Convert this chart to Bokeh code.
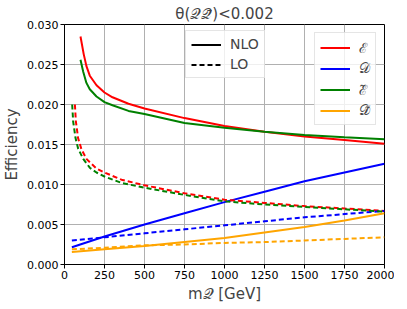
from bokeh.plotting import figure
from bokeh.models import Legend, LegendItem, FixedTicker, NumeralTickFormatter
from bokeh.embed import file_html
from bokeh.resources import INLINE

# ---- data ----
m_E_nlo = [100, 120, 137, 158, 200, 250, 300, 400, 500, 750, 1000, 1250, 1500, 1750, 2000]
E_nlo = [0.0285, 0.0263, 0.0248, 0.0236, 0.0224, 0.0215, 0.0209, 0.0201, 0.0195, 0.0183,
         0.0173, 0.0166, 0.0160, 0.01555, 0.0151]

m_Et_nlo = [100, 117, 137, 158, 200, 250, 300, 400, 500, 750, 1000, 1250, 1500, 1750, 2000]
Et_nlo = [0.0256, 0.0241, 0.0227, 0.0219, 0.0210, 0.0203, 0.0199, 0.0192, 0.0188, 0.0177,
          0.0171, 0.0166, 0.0162, 0.0159, 0.01565]

m_E_lo = [65, 71, 85, 106, 137, 200, 250, 356, 500, 750, 1000, 1250, 1500, 1750, 2000]
E_lo = [0.0200, 0.0179, 0.0158, 0.0144, 0.0132, 0.0120, 0.0115, 0.0106, 0.0099, 0.0089,
        0.0081, 0.0077, 0.0073, 0.0070, 0.0067]

m_Et_lo = [48, 54, 69, 85, 117, 158, 200, 250, 356, 500, 750, 1000, 1250, 1500, 1750, 2000]
Et_lo = [0.0200, 0.0179, 0.0158, 0.0145, 0.0132, 0.0121, 0.0115, 0.0110, 0.0102, 0.0096,
         0.0087, 0.0079, 0.0075, 0.0072, 0.0069, 0.0066]

m_D = [46, 250, 500, 750, 1000, 1250, 1500, 1750, 2000]
D_nlo = [0.00215, 0.0035, 0.0050, 0.0064, 0.0078, 0.0091, 0.0104, 0.0115, 0.0126]
D_lo = [0.0030, 0.0034, 0.0039, 0.0044, 0.0049, 0.0054, 0.0059, 0.0063, 0.0067]
Dt_nlo = [0.00156, 0.0019, 0.0023, 0.0028, 0.0033, 0.0040, 0.0047, 0.0055, 0.0064]
Dt_lo = [0.0019, 0.0021, 0.0024, 0.0025, 0.0027, 0.0028, 0.0030, 0.0032, 0.0034]

x_ticks = [0, 250, 500, 750, 1000, 1250, 1500, 1750, 2000]
y_ticks = [0.0, 0.005, 0.010, 0.015, 0.020, 0.025, 0.030]

title_text = "θ(𝒬𝒬̄)<0.002"
labels = ["ℰ", "𝒟", "ℰ̃", "𝒟̃"]
order_labels = ["NLO", "LO"]

FONT = "DejaVu Sans"
nan = float("nan")

p = figure(frame_width=320, frame_height=240, x_range=(0, 2000), y_range=(0, 0.030),
           output_backend="svg", toolbar_location=None,
           min_border_left=60, min_border_right=10, min_border_top=22, min_border_bottom=31)

p.title.text = title_text
p.title.align = "center"
p.title.text_font = FONT
p.title.text_font_size = "15px"
p.title.text_font_style = "normal"
p.title.standoff = 4
p.title.offset = 0

p.outline_line_color = "black"
p.outline_line_width = 1
p.outline_line_alpha = 1

for ax in (p.xaxis, p.yaxis):
    ax.major_label_text_font = FONT
    ax.major_label_text_font_size = "11px"
    ax.major_label_text_color = "black"
    ax.axis_label_text_font = FONT
    ax.axis_label_text_font_size = "15px"
    ax.axis_label_text_font_style = "normal"
    ax.axis_line_color = "black"
    ax.major_tick_line_color = "black"
    ax.major_tick_out = 4
    ax.major_tick_in = 0
    ax.minor_tick_line_color = None
    ax.major_label_standoff = 2

p.xaxis.axis_label_standoff = 3
p.yaxis.axis_label_standoff = 3

p.xaxis.ticker = FixedTicker(ticks=x_ticks)
p.yaxis.ticker = FixedTicker(ticks=y_ticks)
p.yaxis.formatter = NumeralTickFormatter(format="0.000")
p.xaxis.axis_label = "m𝒬 [GeV]"
p.yaxis.axis_label = "Efficiency"

p.xgrid.ticker = FixedTicker(ticks=x_ticks)
p.ygrid.ticker = FixedTicker(ticks=y_ticks)
for g in (p.xgrid, p.ygrid):
    g.grid_line_color = "#b0b0b0"
    g.grid_line_width = 1

LW = 2
DASH = "5 3"
r_E = p.line(m_E_nlo, E_nlo, color="red", line_width=LW)
r_D = p.line(m_D, D_nlo, color="blue", line_width=LW)
r_Et = p.line(m_Et_nlo, Et_nlo, color="green", line_width=LW)
r_Dt = p.line(m_D, Dt_nlo, color="orange", line_width=LW)
p.line(m_E_lo, E_lo, color="red", line_width=LW, line_dash=DASH)
p.line(m_D, D_lo, color="blue", line_width=LW, line_dash=DASH)
p.line(m_Et_lo, Et_lo, color="green", line_width=LW, line_dash=DASH)
p.line(m_D, Dt_lo, color="orange", line_width=LW, line_dash=DASH)

r_nlo = p.line([nan], [nan], color="black", line_width=LW)
r_lo = p.line([nan], [nan], color="black", line_width=LW, line_dash=DASH)


def style(leg):
    leg.label_text_font = FONT
    leg.label_text_font_size = "14px"
    leg.glyph_width = 30
    leg.glyph_height = 15
    leg.label_height = 15
    leg.label_width = 10
    leg.label_standoff = 9
    leg.spacing = 4
    leg.padding = 5
    leg.border_line_color = "#cccccc"
    leg.border_line_width = 1
    leg.background_fill_alpha = 0.8


leg1 = Legend(items=[LegendItem(label=order_labels[0], renderers=[r_nlo]),
                     LegendItem(label=order_labels[1], renderers=[r_lo])],
              location=(121, 186))
style(leg1)
leg2 = Legend(items=[LegendItem(label=l, renderers=[r]) for l, r in zip(labels, [r_E, r_D, r_Et, r_Dt])],
              location="top_right")
style(leg2)
leg2.label_text_font = "DejaVu Serif"
leg2.spacing = 3
leg2.margin = 8
p.add_layout(leg1)
p.add_layout(leg2)

open("out.html", "w").write(file_html(p, INLINE))
